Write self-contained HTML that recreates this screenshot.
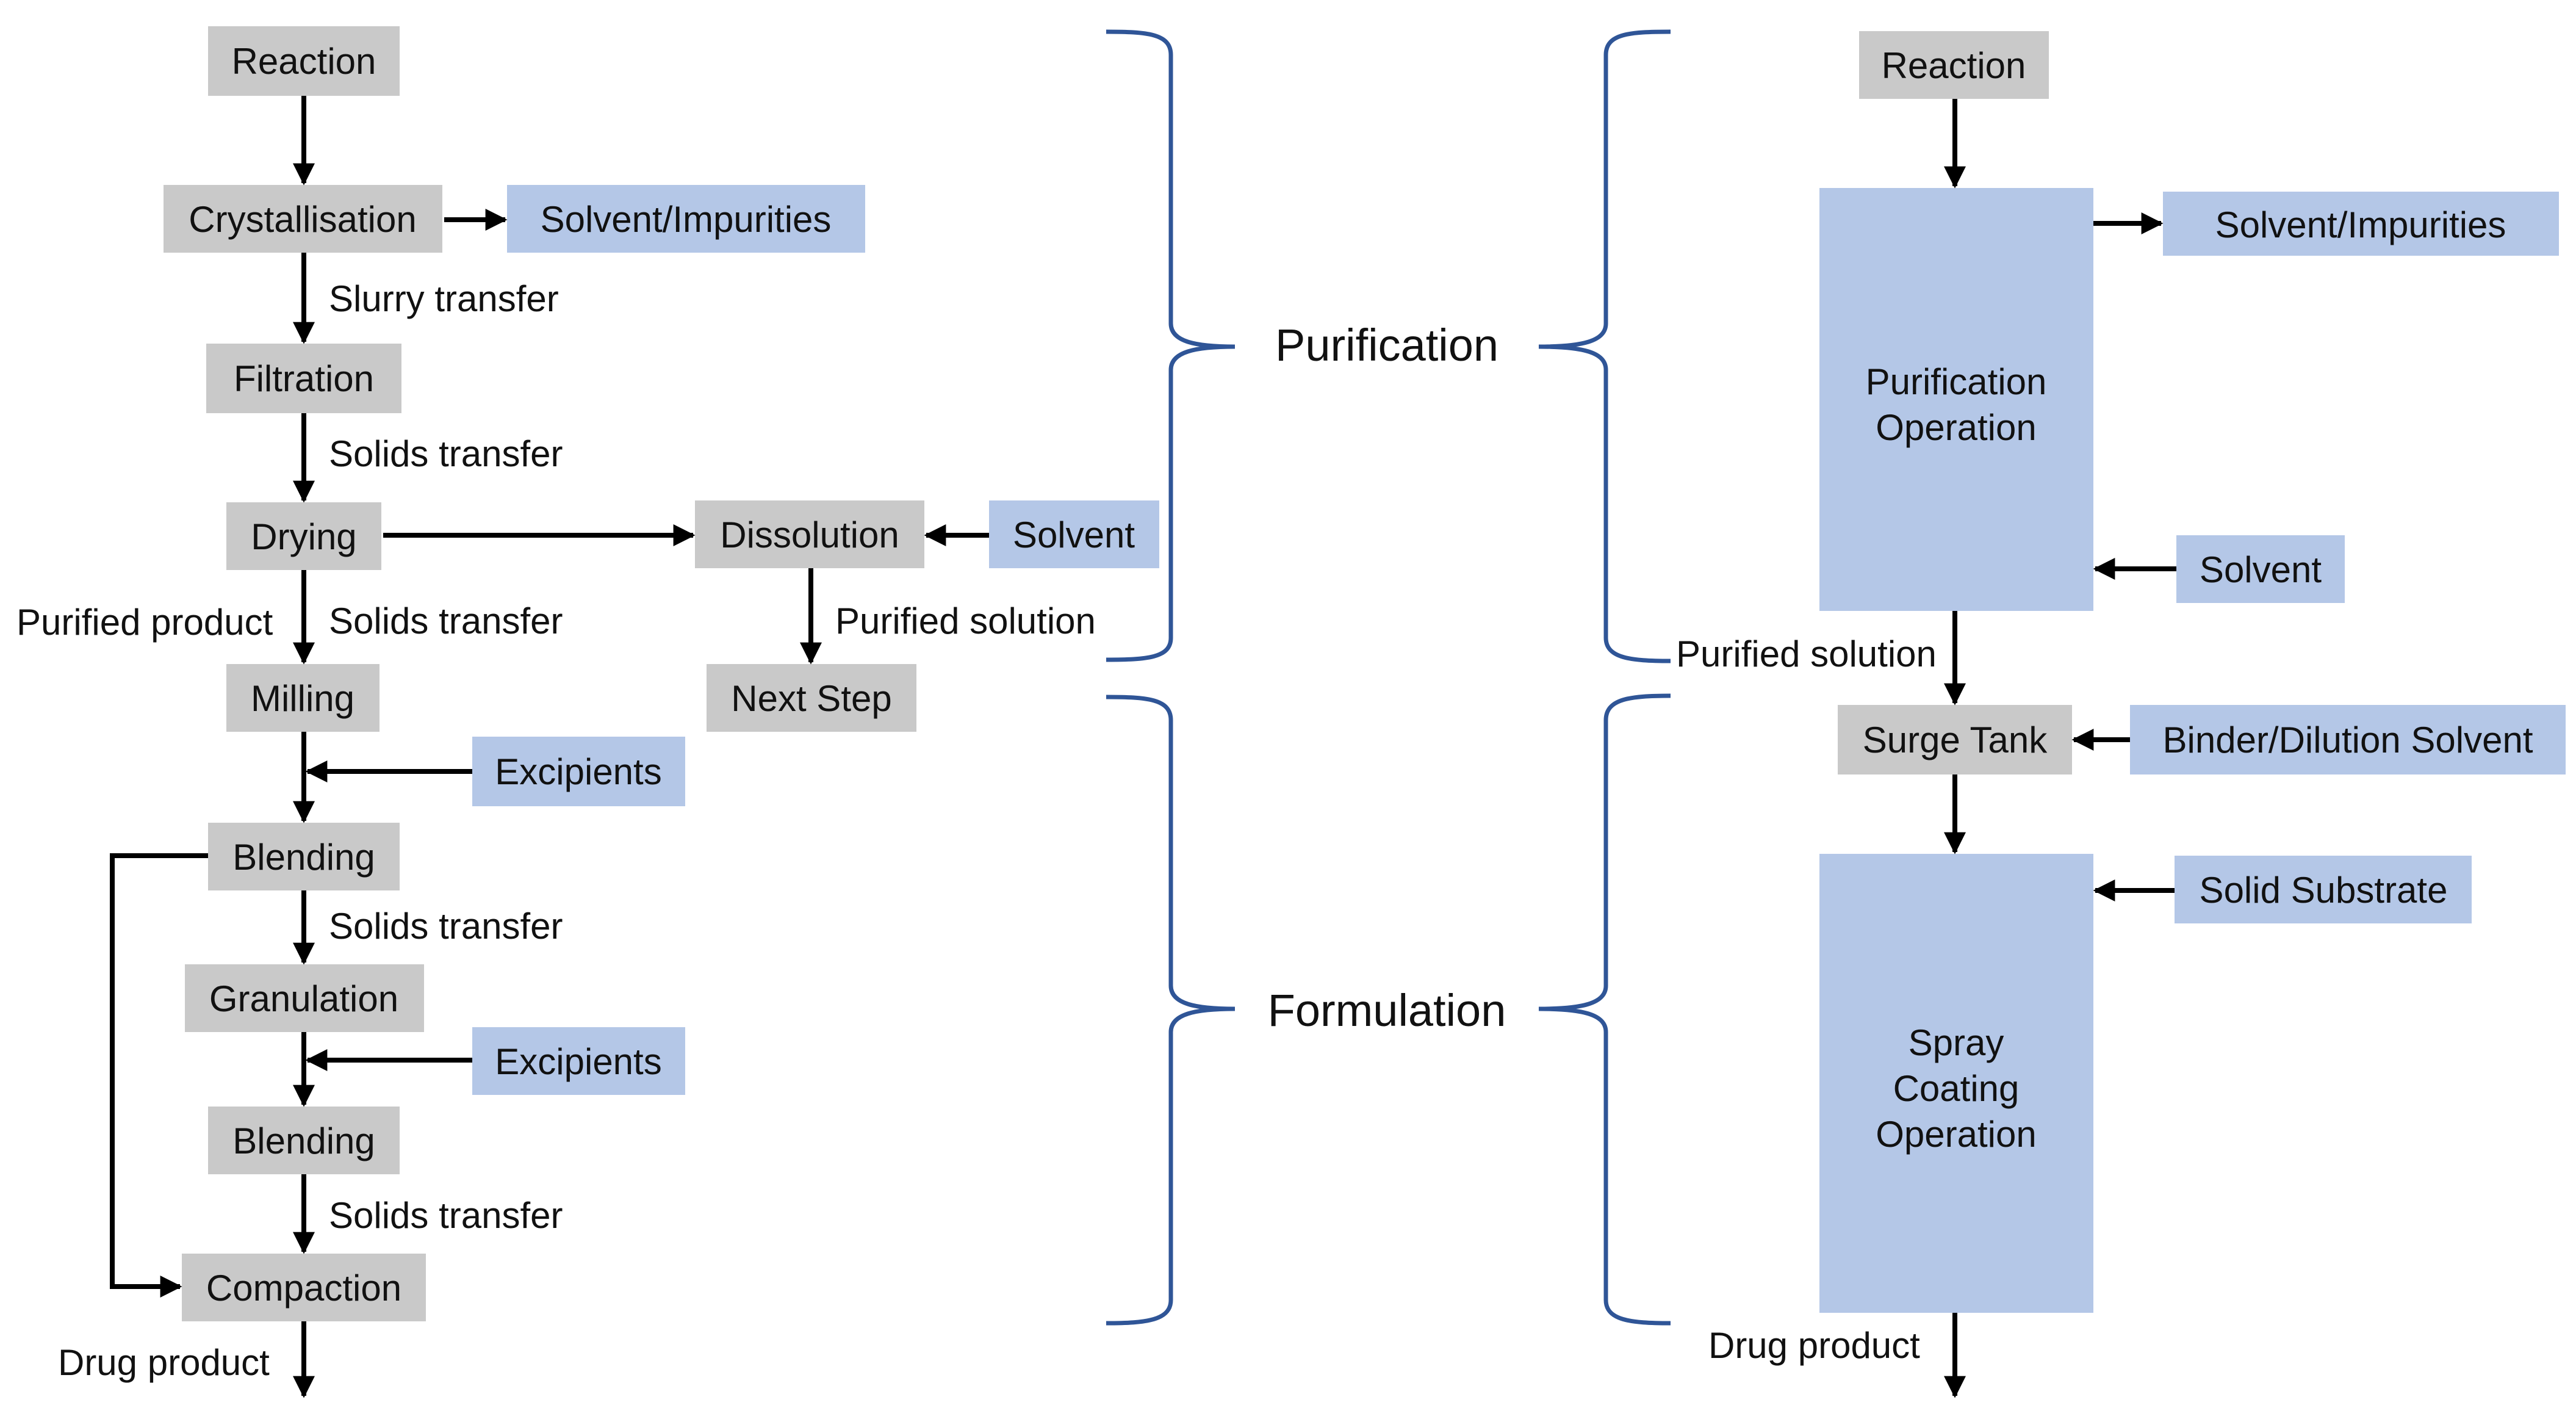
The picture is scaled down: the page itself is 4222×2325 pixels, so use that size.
<!DOCTYPE html>
<html><head><meta charset="utf-8"><style>
html,body{margin:0;padding:0;background:#fff}
svg{display:block}
text{font-family:"Liberation Sans",Arial,sans-serif;font-size:60px;fill:#111}
.g{fill:#c9c9c9}.b{fill:#b4c7e7}
.l{stroke:#000;stroke-width:8;fill:none}
.br{stroke:#2f5597;stroke-width:7;fill:none}
.big{font-size:74px}
</style></head><body>
<svg width="4222" height="2325" viewBox="0 0 4222 2325" xmlns="http://www.w3.org/2000/svg">
<defs>
<marker id="a" viewBox="0 0 10 10" refX="9" refY="5" markerWidth="4.5" markerHeight="4.5" markerUnits="strokeWidth" orient="auto">
<path d="M0,0 L10,5 L0,10 z" fill="#000"/></marker>
</defs>
<rect class="g" x="341" y="43" width="314" height="114"/><text x="498" y="121" text-anchor="middle">Reaction</text>
<rect class="g" x="268" y="303" width="457" height="111"/><text x="496" y="380" text-anchor="middle">Crystallisation</text>
<rect class="b" x="831" y="303" width="587" height="111"/><text x="1124" y="380" text-anchor="middle">Solvent/Impurities</text>
<rect class="g" x="338" y="563" width="320" height="114"/><text x="498" y="641" text-anchor="middle">Filtration</text>
<rect class="g" x="371" y="823" width="254" height="111"/><text x="498" y="900" text-anchor="middle">Drying</text>
<rect class="g" x="1139" y="820" width="376" height="111"/><text x="1327" y="897" text-anchor="middle">Dissolution</text>
<rect class="b" x="1621" y="820" width="279" height="111"/><text x="1760" y="897" text-anchor="middle">Solvent</text>
<rect class="g" x="371" y="1088" width="251" height="111"/><text x="496" y="1165" text-anchor="middle">Milling</text>
<rect class="g" x="1158" y="1088" width="344" height="111"/><text x="1330" y="1165" text-anchor="middle">Next Step</text>
<rect class="b" x="774" y="1207" width="349" height="114"/><text x="948" y="1285" text-anchor="middle">Excipients</text>
<rect class="g" x="341" y="1348" width="314" height="111"/><text x="498" y="1425" text-anchor="middle">Blending</text>
<rect class="g" x="303" y="1580" width="392" height="111"/><text x="498" y="1657" text-anchor="middle">Granulation</text>
<rect class="b" x="774" y="1683" width="349" height="111"/><text x="948" y="1760" text-anchor="middle">Excipients</text>
<rect class="g" x="341" y="1813" width="314" height="111"/><text x="498" y="1890" text-anchor="middle">Blending</text>
<rect class="g" x="298" y="2054" width="400" height="111"/><text x="498" y="2131" text-anchor="middle">Compaction</text>
<line class="l" x1="498" y1="157" x2="498" y2="300" marker-end="url(#a)"/>
<line class="l" x1="728" y1="360" x2="828" y2="360" marker-end="url(#a)"/>
<line class="l" x1="498" y1="414" x2="498" y2="560" marker-end="url(#a)"/>
<line class="l" x1="498" y1="677" x2="498" y2="820" marker-end="url(#a)"/>
<line class="l" x1="628" y1="877" x2="1136" y2="877" marker-end="url(#a)"/>
<line class="l" x1="1621" y1="877" x2="1518" y2="877" marker-end="url(#a)"/>
<line class="l" x1="1329" y1="931" x2="1329" y2="1085" marker-end="url(#a)"/>
<line class="l" x1="498" y1="934" x2="498" y2="1085" marker-end="url(#a)"/>
<line class="l" x1="498" y1="1199" x2="498" y2="1345" marker-end="url(#a)"/>
<line class="l" x1="774" y1="1264" x2="504" y2="1264" marker-end="url(#a)"/>
<line class="l" x1="498" y1="1459" x2="498" y2="1577" marker-end="url(#a)"/>
<line class="l" x1="498" y1="1691" x2="498" y2="1810" marker-end="url(#a)"/>
<line class="l" x1="774" y1="1737" x2="504" y2="1737" marker-end="url(#a)"/>
<line class="l" x1="498" y1="1924" x2="498" y2="2051" marker-end="url(#a)"/>
<line class="l" x1="498" y1="2165" x2="498" y2="2287" marker-end="url(#a)"/>
<polyline class="l" points="341,1402 184,1402 184,2108 295,2108" marker-end="url(#a)"/>
<text x="539" y="510">Slurry transfer</text>
<text x="539" y="764">Solids transfer</text>
<text x="539" y="1038">Solids transfer</text>
<text x="27" y="1040">Purified product</text>
<text x="1369" y="1038">Purified solution</text>
<text x="539" y="1538">Solids transfer</text>
<text x="539" y="2012">Solids transfer</text>
<text x="95" y="2253">Drug product</text>
<path class="br" d="M1813,52 C1880,52 1919,55 1919,90 L1919,530 C1919,560 1960,568 2024,568 C1960,568 1919,576 1919,606 L1919,1045 C1919,1078 1880,1081 1813,1081"/>
<path class="br" d="M1813,1142 C1880,1142 1919,1145 1919,1180 L1919,1615 C1919,1645 1960,1653 2024,1653 C1960,1653 1919,1661 1919,1691 L1919,2130 C1919,2163 1880,2168 1813,2168"/>
<path class="br" d="M2738,52 C2671,52 2632,55 2632,90 L2632,530 C2632,560 2591,568 2522,568 C2591,568 2632,576 2632,606 L2632,1045 C2632,1078 2671,1083 2738,1083"/>
<path class="br" d="M2738,1140 C2671,1140 2632,1145 2632,1180 L2632,1615 C2632,1645 2591,1653 2522,1653 C2591,1653 2632,1661 2632,1691 L2632,2130 C2632,2163 2671,2168 2738,2168"/>
<text class="big" x="2273" y="591" text-anchor="middle">Purification</text>
<text class="big" x="2273" y="1681" text-anchor="middle">Formulation</text>
<rect class="g" x="3047" y="51" width="311" height="111"/><text x="3202" y="128" text-anchor="middle">Reaction</text>
<rect class="b" x="2982" y="308" width="449" height="693"/>
<text x="3206" y="646" text-anchor="middle">Purification</text><text x="3206" y="721" text-anchor="middle">Operation</text>
<rect class="b" x="3545" y="314" width="649" height="105"/><text x="3869" y="389" text-anchor="middle">Solvent/Impurities</text>
<rect class="b" x="3567" y="877" width="276" height="111"/><text x="3705" y="954" text-anchor="middle">Solvent</text>
<rect class="g" x="3012" y="1155" width="384" height="114"/><text x="3204" y="1233" text-anchor="middle">Surge Tank</text>
<rect class="b" x="3491" y="1155" width="714" height="114"/><text x="3848" y="1233" text-anchor="middle">Binder/Dilution Solvent</text>
<rect class="b" x="2982" y="1399" width="449" height="752"/>
<text x="3206" y="1729" text-anchor="middle">Spray</text><text x="3206" y="1804" text-anchor="middle">Coating</text><text x="3206" y="1879" text-anchor="middle">Operation</text>
<rect class="b" x="3564" y="1402" width="487" height="111"/><text x="3808" y="1479" text-anchor="middle">Solid Substrate</text>
<line class="l" x1="3204" y1="162" x2="3204" y2="305" marker-end="url(#a)"/>
<line class="l" x1="3431" y1="366" x2="3542" y2="366" marker-end="url(#a)"/>
<line class="l" x1="3567" y1="932" x2="3434" y2="932" marker-end="url(#a)"/>
<line class="l" x1="3204" y1="1001" x2="3204" y2="1152" marker-end="url(#a)"/>
<line class="l" x1="3491" y1="1212" x2="3399" y2="1212" marker-end="url(#a)"/>
<line class="l" x1="3204" y1="1269" x2="3204" y2="1396" marker-end="url(#a)"/>
<line class="l" x1="3564" y1="1459" x2="3434" y2="1459" marker-end="url(#a)"/>
<line class="l" x1="3204" y1="2151" x2="3204" y2="2287" marker-end="url(#a)"/>
<text x="2747" y="1092">Purified solution</text>
<text x="2800" y="2225">Drug product</text>
</svg>
</body></html>
